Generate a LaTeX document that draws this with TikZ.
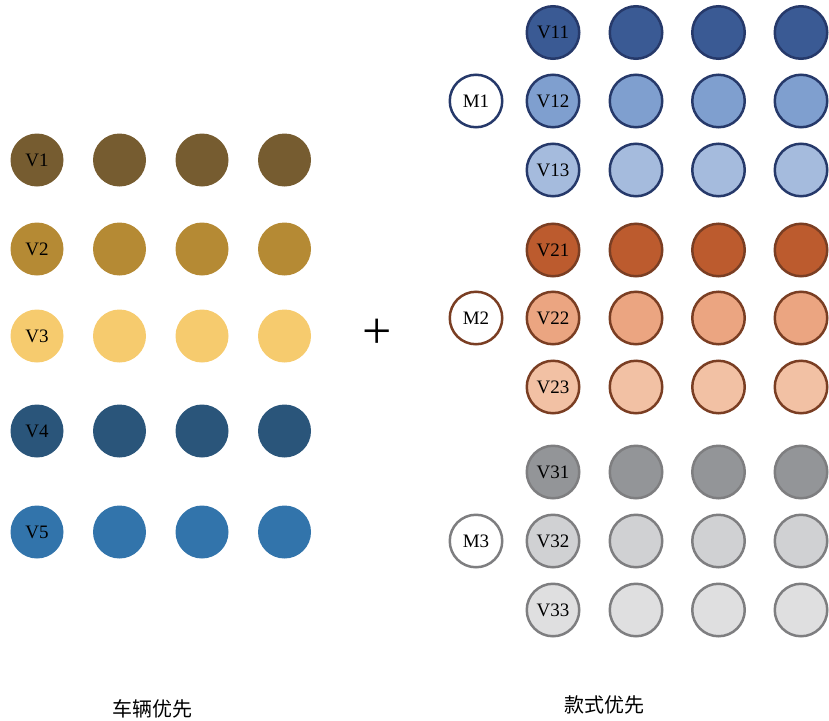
\documentclass[tikz,border=0pt]{standalone}
\usepackage{fontspec}
\setmainfont{Liberation Serif}
\newfontfamily\cjk{Noto Sans CJK SC}
\definecolor{cVa}{HTML}{765C30}
\definecolor{cVb}{HTML}{B58A34}
\definecolor{cVc}{HTML}{F6CB6E}
\definecolor{cVd}{HTML}{2A557A}
\definecolor{cVe}{HTML}{3274AB}
\definecolor{bA}{HTML}{3A5A94}
\definecolor{bB}{HTML}{7F9FCF}
\definecolor{bC}{HTML}{A5BBDD}
\definecolor{bS}{HTML}{26396A}
\definecolor{oA}{HTML}{BC5B2E}
\definecolor{oB}{HTML}{EBA581}
\definecolor{oC}{HTML}{F2C1A4}
\definecolor{oS}{HTML}{7A3E23}
\definecolor{gA}{HTML}{939598}
\definecolor{gB}{HTML}{D0D1D3}
\definecolor{gC}{HTML}{DFDFE0}
\definecolor{gS}{HTML}{7E7E80}
\tikzset{
  dotL/.style={circle, minimum size=53pt, inner sep=0pt, font=\fontsize{19}{19}\selectfont},
  dotR/.style={circle, minimum size=52.5pt, inner sep=0pt, line width=2.5pt, draw, font=\fontsize{19}{19}\selectfont},
  cnlabel/.style={font=\cjk\fontsize{20}{20}\selectfont},
}
\begin{document}
\begin{tikzpicture}[x=1pt,y=-1pt]
\useasboundingbox (0,0) rectangle (829,720);
% left grid
\foreach \r/\yy/\cc in {1/160/cVa,2/249/cVb,3/336/cVc,4/431/cVd,5/532/cVe}{
  \node[dotL, fill=\cc] (L\r a) at (37,\yy) {V\r};
  \node[dotL, fill=\cc] (L\r b) at (119.5,\yy) {};
  \node[dotL, fill=\cc] (L\r c) at (202,\yy) {};
  \node[dotL, fill=\cc] (L\r d) at (284.5,\yy) {};
}
% plus
\node[inner sep=0pt] (plus) at (377.5,334) {\fontsize{52}{52}\selectfont +};
% right grid
\foreach \g/\m/\ys/\ya/\yb/\yc/\fa/\fb/\fc in {
  1/101/bS/32.5/101/170/bA/bB/bC,
  2/318/oS/250/318/387/oA/oB/oC,
  3/541/gS/472/541/610/gA/gB/gC}{
  \node[dotR, draw=\ys, fill=white] (M\g) at (476,\m) {M\g};
  \foreach \k/\yy/\ff in {1/\ya/\fa,2/\yb/\fb,3/\yc/\fc}{
    \node[dotR, draw=\ys, fill=\ff] (V\g\k a) at (553,\yy) {V\g\k};
    \node[dotR, draw=\ys, fill=\ff] (V\g\k b) at (636,\yy) {};
    \node[dotR, draw=\ys, fill=\ff] (V\g\k c) at (718.5,\yy) {};
    \node[dotR, draw=\ys, fill=\ff] (V\g\k d) at (801,\yy) {};
  }
}
\node[cnlabel] (capL) at (152,709) {车辆优先};
\node[cnlabel] (capR) at (604,705) {款式优先};
\end{tikzpicture}
\end{document}
